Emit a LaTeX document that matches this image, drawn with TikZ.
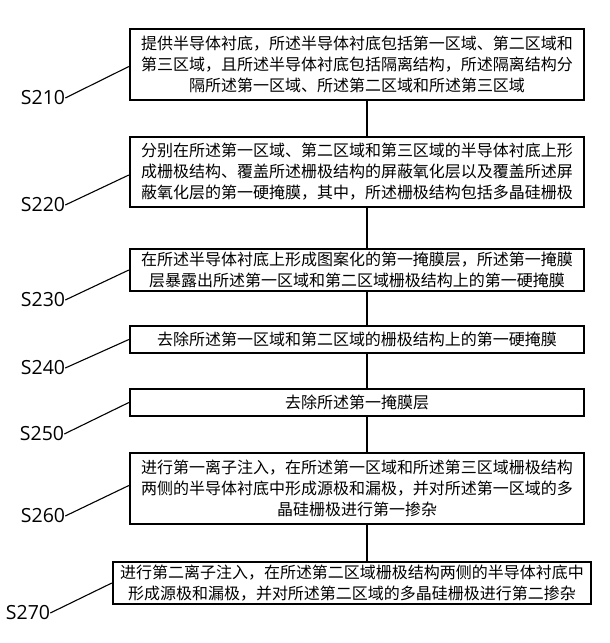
\documentclass[tikz,border=0pt]{standalone}
\usepackage{fontspec}
\newfontfamily\cjk{Noto Sans CJK SC}
\newfontfamily\labelfont{Open Sans}
\begin{document}
\begin{tikzpicture}[x=1pt,y=-1pt,
  stepbox/.style={draw=black,line width=2.3pt,fill=white,inner sep=0pt,
    minimum width=454pt,align=center,
    font=\cjk\fontsize{16}{21}\selectfont},
  steplabel/.style={inner sep=0pt,font=\labelfont\fontsize{19.5}{20}\selectfont},
  leader/.style={line width=1.1pt},
  link/.style={line width=1.8pt}]
\useasboundingbox[fill=white] (0,0) rectangle (610,643);
\coordinate (cx) at (367,0);

\node[stepbox,minimum height=71pt] (b1) at (357,64.5)
  {提供半导体衬底，所述半导体衬底包括第一区域、第二区域和\\第三区域，且所述半导体衬底包括隔离结构，所述隔离结构分\\隔所述第一区域、所述第二区域和所述第三区域};
\node[stepbox,minimum height=70pt] (b2) at (357,172)
  {分别在所述第一区域、第二区域和第三区域的半导体衬底上形\\成栅极结构、覆盖所述栅极结构的屏蔽氧化层以及覆盖所述屏\\蔽氧化层的第一硬掩膜，其中，所述栅极结构包括多晶硅栅极};
\node[stepbox,minimum height=42pt] (b3) at (357,270)
  {在所述半导体衬底上形成图案化的第一掩膜层，所述第一掩膜\\层暴露出所述第一区域和第二区域栅极结构上的第一硬掩膜};
\node[stepbox,minimum height=27pt] (b4) at (357,339.5)
  {去除所述第一区域和第二区域的栅极结构上的第一硬掩膜};
\node[stepbox,minimum height=27pt] (b5) at (357,402.5)
  {去除所述第一掩膜层};
\node[stepbox,minimum height=71pt] (b6) at (357,488.5)
  {进行第一离子注入，在所述第一区域和所述第三区域栅极结构\\两侧的半导体衬底中形成源极和漏极，并对所述第一区域的多\\晶硅栅极进行第一掺杂};
\node[stepbox,minimum height=42pt,minimum width=478pt] (b7) at (352,583)
  {进行第二离子注入，在所述第二区域栅极结构两侧的半导体衬底中\\形成源极和漏极，并对所述第二区域的多晶硅栅极进行第二掺杂};

\node[steplabel] (s1) at (43,98) {S210};
\node[steplabel] (s2) at (43,205) {S220};
\node[steplabel] (s3) at (43,300) {S230};
\node[steplabel] (s4) at (43,368) {S240};
\node[steplabel] (s5) at (42,434) {S250};
\node[steplabel] (s6) at (43,516) {S260};
\node[steplabel] (s7) at (28,613) {S270};

\draw[leader] (s1.east) -- ([yshift=-2pt]b1.west);
\draw[leader] (s2.east) -- ([yshift=-3pt]b2.west);
\draw[leader] (s3.east) -- (b3.west);
\draw[leader] (s4.east) -- (b4.west);
\draw[leader] (s5.east) -- (b5.west);
\draw[leader] (s6.east) -- ([yshift=3pt]b6.west);
\draw[leader] (s7.east) -- (b7.west);

\draw[link] (b1.south -| cx) -- (b2.north -| cx);
\draw[link] (b2.south -| cx) -- (b3.north -| cx);
\draw[link] (b3.south -| cx) -- (b4.north -| cx);
\draw[link] (b4.south -| cx) -- (b5.north -| cx);
\draw[link] (b5.south -| cx) -- (b6.north -| cx);
\draw[link] (b6.south -| cx) -- (b7.north -| cx);
\end{tikzpicture}
\end{document}
